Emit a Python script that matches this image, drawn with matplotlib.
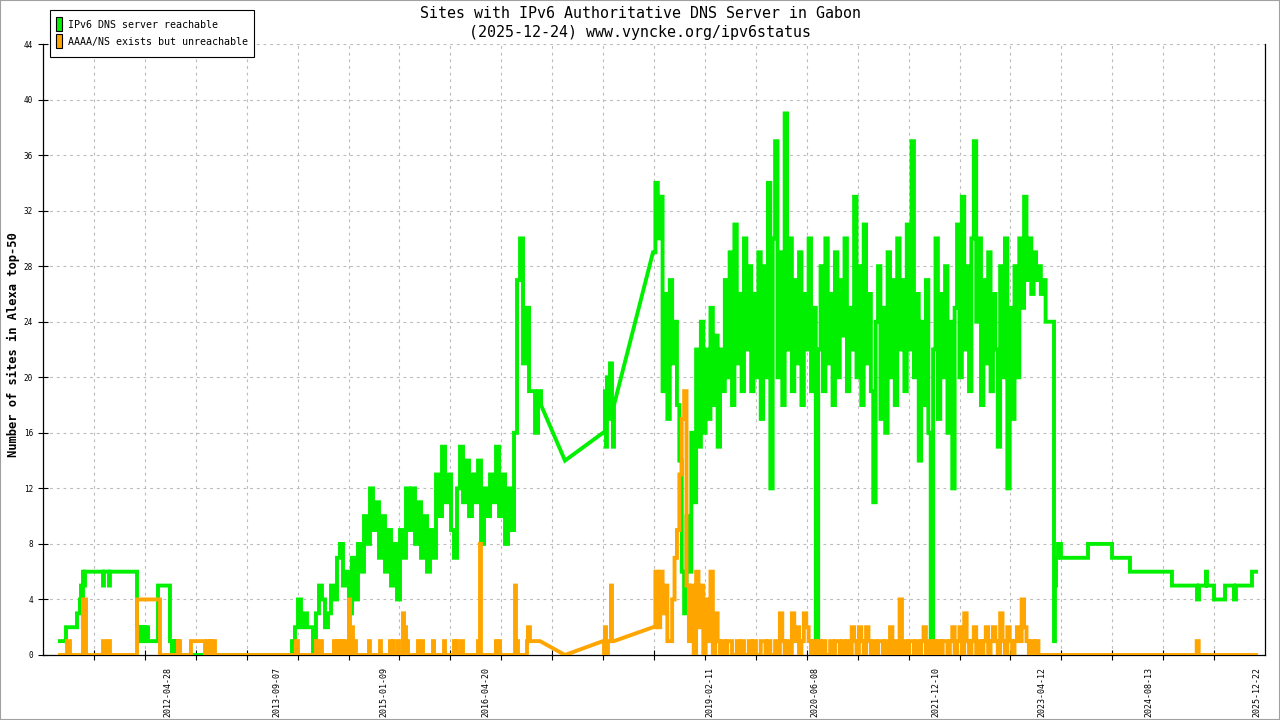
import numpy as np
import pandas as pd
import matplotlib
matplotlib.use('Agg')
import matplotlib.pyplot as plt
from matplotlib.patches import Rectangle

# x values are decimal years, y values are number of sites

# green: IPv6 DNS server reachable
green_early_t = [2010.944, 2011.044, 2011.182, 2011.219, 2011.232, 2011.245, 2011.257, 2011.270,
                 2011.282, 2011.508, 2011.520, 2011.583, 2011.595, 2011.934, 2011.959, 2011.971,
                 2011.996, 2012.009, 2012.034, 2012.047, 2012.072, 2012.197, 2012.347, 2012.372,
                 2012.385, 2012.410, 2012.422, 2012.447]
green_early_v = [1, 2, 3, 4, 5, 4, 6, 5, 6, 5, 6, 5, 6, 2, 1, 2, 1, 2, 1, 2, 1, 5, 1, 0, 1, 0, 1, 0]

green_1416_start = 2013.876
green_1416_step = 0.0376
green_1416_v = [1, 2, 4, 2, 3, 2, 2, 0, 3, 5,
                4, 2, 3, 5, 4, 7, 8, 5, 6, 3,
                7, 4, 8, 6, 10, 8, 12, 9, 11, 7,
                10, 6, 9, 5, 8, 4, 9, 7, 12, 9,
                12, 8, 11, 7, 10, 6, 9, 7, 13, 10,
                15, 11, 13, 9, 7, 12, 15, 11, 14, 10,
                13, 11, 14, 8, 12, 10, 13, 11, 15, 10,
                13, 8, 12, 9, 16, 27, 30, 21, 25, 19,
                19, 16, 19, 18]

green_gap_t = [2017.297]
green_gap_v = [14]

green_2017_t = [2017.773, 2017.798, 2017.811, 2017.823, 2017.848, 2017.861, 2017.886, 2017.898, 2017.911]
green_2017_v = [16, 19, 15, 20, 17, 21, 18, 15, 18]

dense_start = 2018.400
dense_step = 0.03
green_dense_v = [29, 34, 30, 33, 19, 26, 17, 27, 21, 24,
                 18, 14, 6, 3, 10, 6, 16, 11, 22, 15,
                 24, 16, 22, 17, 25, 18, 23, 15, 22, 19,
                 27, 20, 29, 18, 31, 21, 26, 19, 30, 22,
                 28, 19, 26, 20, 29, 17, 28, 20, 34, 12,
                 30, 37, 20, 29, 18, 39, 22, 30, 19, 27,
                 21, 29, 18, 26, 22, 30, 19, 25, 0, 22,
                 28, 19, 30, 21, 26, 18, 29, 20, 27, 23,
                 30, 19, 25, 22, 33, 20, 28, 18, 31, 21,
                 26, 19, 11, 24, 28, 17, 25, 16, 29, 20,
                 27, 18, 30, 22, 27, 19, 31, 22, 37, 20,
                 26, 14, 24, 18, 27, 16, 0, 22, 30, 17,
                 26, 20, 28, 16, 24, 12, 25, 31, 20, 33,
                 22, 28, 19, 30, 37, 24, 30, 18, 27, 21,
                 29, 19, 26, 22, 15, 28, 20, 30, 12, 25,
                 17, 28, 20, 30, 25, 33, 27, 30, 26, 29,
                 27, 28, 26, 27, 24, 24, 24, 24]

green_tail_t = [2023.425, 2023.437, 2023.450, 2023.475, 2023.512, 2023.851, 2024.152, 2024.377,
                2024.903, 2025.217, 2025.242, 2025.329, 2025.342, 2025.430, 2025.568, 2025.680,
                2025.705, 2025.906, 2025.981]
green_tail_v = [1, 5, 7, 8, 7, 8, 7, 6, 5, 4, 5, 6, 5, 4, 5, 4, 5, 6, 6]

# orange: AAAA/NS exists but unreachable
orange_early_t = [2010.944, 2011.057, 2011.094, 2011.257, 2011.295, 2011.508, 2011.533, 2011.570,
                  2011.595, 2011.934, 2012.222, 2012.447, 2012.473, 2012.610, 2012.786, 2012.811,
                  2012.836, 2012.849, 2012.874, 2012.886, 2012.911,
                  2013.926, 2013.951, 2014.177, 2014.202, 2014.227, 2014.252, 2014.402, 2014.427,
                  2014.440, 2014.465, 2014.478, 2014.490, 2014.503, 2014.515, 2014.540, 2014.553,
                  2014.590, 2014.603, 2014.628, 2014.640, 2014.666, 2014.678, 2014.841, 2014.853,
                  2014.979, 2014.991, 2015.104, 2015.117, 2015.142, 2015.154, 2015.204, 2015.217,
                  2015.267, 2015.280, 2015.292, 2015.305, 2015.330, 2015.455, 2015.468, 2015.505,
                  2015.518, 2015.643, 2015.656, 2015.781, 2015.793, 2015.906, 2015.919, 2015.931,
                  2015.944, 2015.994, 2016.019, 2016.207, 2016.219, 2016.232, 2016.244, 2016.432,
                  2016.445, 2016.470, 2016.483, 2016.671, 2016.683, 2016.696, 2016.708, 2016.821,
                  2016.833, 2016.858, 2016.984]
orange_early_v = [0, 1, 0, 4, 0, 1, 0, 1,
                  0, 4, 0, 1, 0, 1, 0, 1,
                  0, 1, 0, 1, 0,
                  1, 0, 1, 0, 1, 0, 1, 0,
                  1, 0, 1, 0, 1, 0, 1, 0,
                  4, 0, 2, 0, 1, 0, 1, 0,
                  1, 0, 1, 0, 1, 0, 1, 0,
                  3, 0, 2, 1, 0, 1, 0, 1,
                  0, 1, 0, 1, 0, 1, 0, 1,
                  0, 1, 0, 1, 0, 8, 0, 1,
                  0, 1, 0, 5, 0, 1, 0, 1,
                  2, 1, 1]

orange_gap_t = [2017.297]
orange_gap_v = [0]

orange_2017_t = [2017.773, 2017.786, 2017.798, 2017.811, 2017.836, 2017.873, 2017.886, 2017.911]
orange_2017_v = [1, 0, 2, 0, 1, 5, 1, 1]

orange_dense_v = [2, 6, 2, 6, 3, 5, 1, 1, 4, 7,
                  9, 13, 17, 19, 5, 1, 5, 0, 6, 2,
                  5, 0, 4, 1, 6, 0, 3, 1, 0, 1,
                  0, 1, 1, 0, 0, 1, 0, 1, 0, 0,
                  1, 0, 1, 0, 0, 1, 1, 0, 1, 0,
                  0, 1, 0, 3, 1, 0, 1, 0, 3, 1,
                  2, 0, 1, 3, 2, 1, 0, 1, 0, 1,
                  0, 1, 0, 0, 1, 0, 1, 1, 0, 1,
                  0, 1, 0, 2, 1, 0, 2, 1, 0, 2,
                  1, 0, 1, 0, 1, 1, 0, 1, 0, 2,
                  0, 1, 0, 4, 0, 1, 0, 1, 1, 0,
                  1, 0, 1, 2, 0, 1, 0, 1, 0, 1,
                  0, 1, 1, 0, 1, 2, 0, 1, 2, 0,
                  3, 1, 0, 1, 2, 0, 1, 0, 1, 2,
                  0, 1, 2, 1, 0, 3, 1, 0, 2, 1,
                  0, 1, 2, 1, 4, 2, 1, 0, 1, 0,
                  1, 0, 0, 0, 0, 0, 0, 0]

orange_tail_t = [2023.425, 2025.213, 2025.238, 2025.981]
orange_tail_v = [0, 1, 0, 0]

x_label_dates = ['2012-04-28', '2013-09-07', '2015-01-09', '2016-04-20', '2019-02-11',
                 '2020-06-08', '2021-12-10', '2023-04-12', '2024-08-13', '2025-12-22']
legend_labels = ['IPv6 DNS server reachable', 'AAAA/NS exists but unreachable']
title_lines = ['Sites with IPv6 Authoritative DNS Server in Gabon',
               '(2025-12-24) www.vyncke.org/ipv6status']
ylabel = 'Number of sites in Alexa top-50'

GREEN = '#00f000'
ORANGE = '#ffa500'
FONT = 'DejaVu Sans Mono'


def as_steps(t, v):
    # each measurement holds until the next one (daily samples)
    t = np.asarray(t, float)
    v = np.asarray(v, float)
    return np.repeat(t, 2)[1:], np.repeat(v, 2)[:-1]


def regular(start, step, v):
    return start + step * np.arange(len(v)), np.asarray(v, float)


def dec_year(s):
    d = pd.Timestamp(s)
    return 2000 + (d - pd.Timestamp('2000-01-01')).days / 365.25


def build(parts):
    ts, vs = [], []
    for t, v in parts:
        ts.append(np.asarray(t, float))
        vs.append(np.asarray(v, float))
    return np.concatenate(ts), np.concatenate(vs)


# green series
g_mid_t, g_mid_v = regular(green_1416_start, green_1416_step, green_1416_v)
g_dense_t, g_dense_v = regular(dense_start, dense_step, green_dense_v)
green_t, green_v = build([
    as_steps(np.r_[green_early_t, g_mid_t], np.r_[green_early_v, g_mid_v]),
    (green_gap_t, green_gap_v),
    as_steps(green_2017_t, green_2017_v),
    as_steps(np.r_[g_dense_t, green_tail_t], np.r_[g_dense_v, green_tail_v]),
])

# orange series
o_dense_t, o_dense_v = regular(dense_start, dense_step, orange_dense_v)
orange_t, orange_v = build([
    as_steps(orange_early_t, orange_early_v),
    (orange_gap_t, orange_gap_v),
    as_steps(orange_2017_t, orange_2017_v),
    as_steps(np.r_[o_dense_t, orange_tail_t], np.r_[o_dense_v, orange_tail_v]),
])

W, H = 1280, 720
fig = plt.figure(figsize=(W / 100, H / 100), dpi=100)
fig.patch.set_facecolor('white')
ax = fig.add_axes([43 / W, 65 / H, 1222 / W, 611 / H])

line_kw = dict(lw=2.8, solid_joinstyle='miter', solid_capstyle='butt')
ax.plot(green_t, green_v, color=GREEN, zorder=3, **line_kw)
ax.plot(orange_t, orange_v, color=ORANGE, zorder=4, **line_kw)

x0, x1 = 2010.756, 2026.069
ax.set_xlim(x0, x1)
ax.set_ylim(0, 44)

# labelled dates (no tick marks) and evenly spaced grid ticks
ax.set_xticks([dec_year(d) for d in x_label_dates])
ax.set_xticklabels(x_label_dates, rotation=90, ha='center', va='top', family=FONT, fontsize=6)
ax.set_xticks(np.linspace(x0, x1, 25)[1:-1], minor=True)
ax.tick_params(axis='x', which='major', length=0, pad=8.5)
ax.tick_params(axis='x', which='minor', direction='inout', length=6.5, width=0.8, color='black')

ax.set_yticks(range(0, 45, 4))
ax.set_yticklabels([str(v) for v in range(0, 45, 4)], family=FONT, fontsize=5.5)
ax.tick_params(axis='y', direction='inout', length=6.5, width=0.8, pad=4)

grid_kw = dict(color='#bbbbbb', linestyle=(0, (2.5, 3.5)), linewidth=0.8)
ax.xaxis.grid(True, which='minor', **grid_kw)
ax.xaxis.grid(False, which='major')
ax.yaxis.grid(True, which='major', **grid_kw)
ax.set_axisbelow(True)

ax.spines['top'].set_visible(False)
for s in ['left', 'bottom', 'right']:
    ax.spines[s].set_linewidth(0.9)
    ax.spines[s].set_color('black')

# titles and axis label
fig.text(0.5, 1 - 14 / H, title_lines[0], ha='center', va='center', family=FONT, fontsize=10.8)
fig.text(0.5, 1 - 32 / H, title_lines[1], ha='center', va='center', family=FONT, fontsize=10.8)
fig.text(13 / W, 1 - 345 / H, ylabel, rotation=90, ha='center', va='center',
         family=FONT, fontsize=8.7, fontweight='bold')

# legend box
fig.add_artist(Rectangle((50 / W, 1 - 57 / H), 204 / W, 47 / H, transform=fig.transFigure,
                         fill=True, facecolor='white', edgecolor='black', lw=0.8, zorder=5))
for i, (lab, col) in enumerate(zip(legend_labels, [GREEN, ORANGE])):
    top = 17 + i * 17
    fig.add_artist(Rectangle((56 / W, 1 - (top + 14) / H), 6 / W, 14 / H, transform=fig.transFigure,
                             facecolor=col, edgecolor='black', lw=0.8, zorder=6))
    fig.text(68 / W, 1 - (top + 8) / H, lab, ha='left', va='center', family=FONT,
             fontsize=7.2, zorder=7)

# outer frame
fig.add_artist(Rectangle((0, 0), 1, 1, transform=fig.transFigure, fill=False,
                         edgecolor='#a0a0a0', lw=1.5))

fig.savefig('out.png', dpi=100)
